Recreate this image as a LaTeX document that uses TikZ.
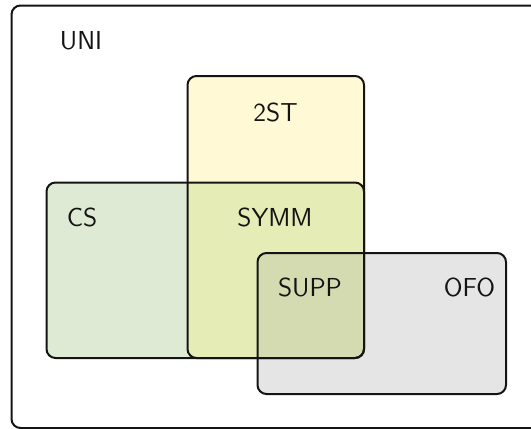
\documentclass[tikz,border=0pt]{standalone}
\usepackage{xcolor}
\usepackage{tikz}
\usetikzlibrary{positioning}
\definecolor{mydark}{RGB}{20,20,20}
\definecolor{hdryellow}{RGB}{255,249,214}
\definecolor{hdrgreen}{RGB}{223,234,212}
\definecolor{hdrsymm}{RGB}{229,236,181}
\definecolor{hdrgray}{RGB}{229,229,229}
\definecolor{hdrsupp}{RGB}{212,219,176}
\tikzset{
  setline/.style={draw=mydark, line width=1pt, rounded corners=4.5pt},
  setfill/.style={rounded corners=4.5pt},
  setlabel/.style={font=\fontsize{13}{15}\selectfont\sffamily, inner sep=0pt, text=mydark}
}

\begin{document}
\begin{tikzpicture}[x=0.5pt, y=-0.5pt]
  \useasboundingbox (0,0) rectangle (531,429);
  \clip (0,0) rectangle (531,429);
  % corners of the sets
  \coordinate (uni-nw) at (11.5,5.5);
  \coordinate (uni-se) at (545,428);
  \coordinate (st-nw) at (187.5,76);
  \coordinate (st-se) at (364,358);
  \coordinate (cs-nw) at (46.5,182.5);
  \coordinate (cs-se) at (364,358);
  \coordinate (ofo-nw) at (257.5,253);
  \coordinate (ofo-se) at (506,394);
  % fills
  \fill[hdryellow, setfill] (st-nw) rectangle (st-se);
  \fill[hdrgreen, setfill] (cs-nw) rectangle (cs-se);
  \begin{scope}
    \clip[setfill] (st-nw) rectangle (st-se);
    \fill[hdrsymm, setfill] (cs-nw) rectangle (cs-se);
  \end{scope}
  \fill[hdrgray, setfill] (ofo-nw) rectangle (ofo-se);
  \begin{scope}
    \clip[setfill] (st-nw) rectangle (st-se);
    \clip[setfill] (cs-nw) rectangle (cs-se);
    \fill[hdrsupp, setfill] (ofo-nw) rectangle (ofo-se);
  \end{scope}
  % borders
  \draw[setline] (uni-nw) rectangle (uni-se);
  \draw[setline] (st-nw) rectangle (st-se);
  \draw[setline] (cs-nw) rectangle (cs-se);
  \draw[setline] (ofo-nw) rectangle (ofo-se);
  % labels
  \node[setlabel] (uni) at (81,41) {UNI};
  \node[setlabel] (twost) at (275.5,112) {2ST};
  \node[setlabel] (cs) at (82,217) {CS};
  \node[setlabel] (symm) at (275,217) {SYMM};
  \node[setlabel] (supp) at (310,287) {SUPP};
  \node[setlabel] (ofo) at (469.5,287) {OFO};
\end{tikzpicture}
\end{document}
